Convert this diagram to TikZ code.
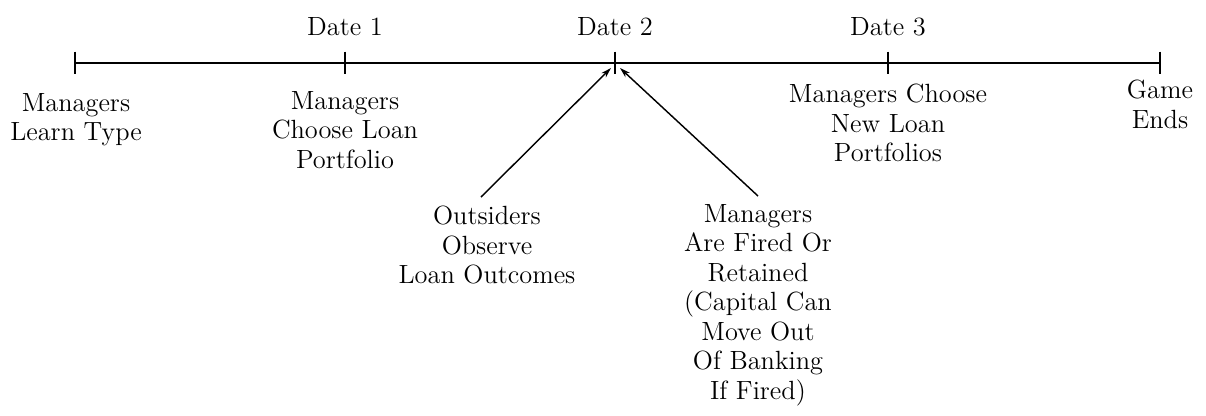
\documentclass[tikz,border=0pt]{standalone}
\usepackage{amsmath}
\usetikzlibrary{arrows.meta}

\begin{document}
\begin{tikzpicture}[x=0.01708cm,y=-0.01708cm,
		event/.style={align=center,inner sep=0pt,font=\fontsize{12.8}{14.3}\selectfont},
		datelbl/.style={anchor=south,inner sep=0pt,font=\fontsize{12.8}{14.3}\selectfont},
		pointer/.style={line width=0.7pt,-{Stealth[length=5pt,width=3pt]}}]
		\useasboundingbox (0,0) rectangle (1206,415);
		% time line
		\coordinate (t0) at (75,63);
		\coordinate (t1) at (345,63);
		\coordinate (t2) at (615,63);
		\coordinate (t3) at (888,63);
		\coordinate (t4) at (1160,63);
		\draw[line width=0.9pt] (t0)--(t4);
		\foreach \t in {t0,t1,t2,t3,t4}
		\draw[line width=0.6pt] ([yshift=5.5pt]\t)--([yshift=-5.5pt]\t);
		\node[datelbl] (date1) at (345,36) {Date 1};
		\node[datelbl] (date2) at (615,36) {Date 2};
		\node[datelbl] (date3) at (888,36) {Date 3};
		% events under the line
		\node[event,anchor=north] (learn) at (76,93) {Managers\\Learn Type};
		\node[event,anchor=north] (choose) at (345,91) {Managers\\Choose Loan\\Portfolio};
		\node[event,anchor=north] (newloan) at (888,84) {Managers Choose\\New Loan\\Portfolios};
		\node[event,anchor=north] (ends) at (1160,80) {Game\\Ends};
		\node[event,anchor=north] (observe) at (487,206) {Outsiders\\Observe\\Loan Outcomes};
		\node[event,anchor=north] (fired) at (758,204) {Managers\\Are Fired Or\\Retained\\(Capital Can\\Move Out\\Of Banking\\If Fired)};
		% arrows to date 2
		\coordinate (hitL) at (611,68);
		\coordinate (hitR) at (620,68);
		\draw[pointer] ([shift={(-6,-9)}]observe.north)--(hitL);
		\draw[pointer] ([shift={(0,-8)}]fired.north)--(hitR);
\end{tikzpicture}
\end{document}
